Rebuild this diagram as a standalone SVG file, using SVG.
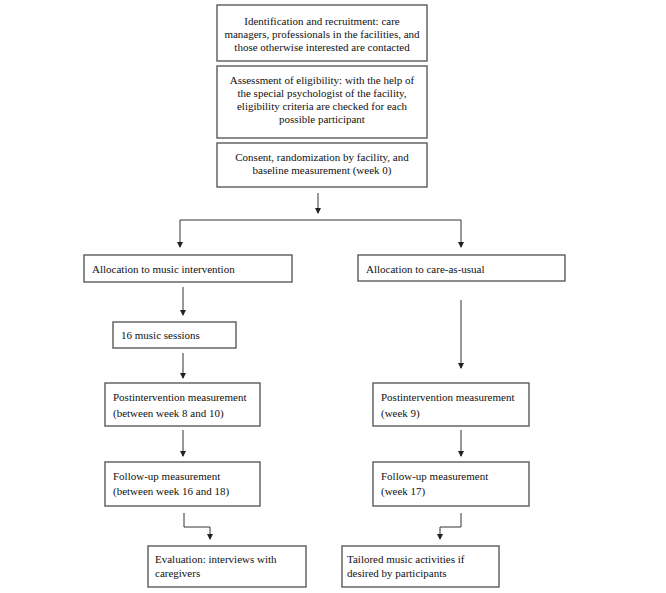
<svg xmlns="http://www.w3.org/2000/svg" width="666" height="593" viewBox="0 0 666 593">
<style>
.box{fill:#fff;stroke:#5a5a5a;stroke-width:1.4}
.t{font-family:"Liberation Serif","Times New Roman",serif;font-size:11px;fill:#111}
.c{text-anchor:middle}
.ln{fill:none;stroke:#333;stroke-width:1}
</style>
<defs>
<marker id="ah" markerWidth="6" markerHeight="6" refX="5" refY="3" orient="auto" markerUnits="userSpaceOnUse" viewBox="0 0 6 6">
<path d="M0,0 L6,3 L0,6 Z" fill="#222"/>
</marker>
</defs>
<rect width="666" height="593" fill="#fff"/>
<g id="connectors">
<path class="ln" d="M318,193 V213" marker-end="url(#ah)"/>
<path class="ln" d="M180,220 H461"/>
<path class="ln" d="M180,220 V247" marker-end="url(#ah)"/>
<path class="ln" d="M461,220 V247" marker-end="url(#ah)"/>
<path class="ln" d="M183,287 V315" marker-end="url(#ah)"/>
<path class="ln" d="M183,353 V378" marker-end="url(#ah)"/>
<path class="ln" d="M461,300 V368" marker-end="url(#ah)"/>
<path class="ln" d="M183,430 V456" marker-end="url(#ah)"/>
<path class="ln" d="M461,430 V456" marker-end="url(#ah)"/>
<path class="ln" d="M184,513 V527 H210 V539" marker-end="url(#ah)"/>
<path class="ln" d="M461,513 V527 H440 V539" marker-end="url(#ah)"/>
</g>
<g id="n1">
<rect class="box" x="217" y="5" width="210" height="56"/>
<text class="t c" x="322" y="25">Identification and recruitment: care</text>
<text class="t c" x="322" y="38">managers, professionals in the facilities, and</text>
<text class="t c" x="322" y="51">those otherwise interested are contacted</text>
</g>
<g id="n2">
<rect class="box" x="217" y="66" width="210" height="72"/>
<text class="t c" x="322" y="84">Assessment of eligibility: with the help of</text>
<text class="t c" x="322" y="97">the special psychologist of the facility,</text>
<text class="t c" x="322" y="110">eligibility criteria are checked for each</text>
<text class="t c" x="322" y="123">possible participant</text>
</g>
<g id="n3">
<rect class="box" x="217" y="143" width="210" height="44"/>
<text class="t c" x="322" y="161">Consent, randomization by facility, and</text>
<text class="t c" x="322" y="174">baseline measurement (week 0)</text>
</g>
<g id="n4">
<rect class="box" x="84" y="255" width="208" height="27"/>
<text class="t" x="92" y="273">Allocation to music intervention</text>
</g>
<g id="n5">
<rect class="box" x="358" y="255" width="207" height="26"/>
<text class="t" x="366" y="273">Allocation to care-as-usual</text>
</g>
<g id="n6">
<rect class="box" x="113" y="322" width="123" height="26"/>
<text class="t" x="121" y="339">16 music sessions</text>
</g>
<g id="n7">
<rect class="box" x="105" y="383" width="155" height="43"/>
<text class="t" x="113" y="401">Postintervention measurement</text>
<text class="t" x="113" y="417">(between week 8 and 10)</text>
</g>
<g id="n8">
<rect class="box" x="373" y="383" width="156" height="43"/>
<text class="t" x="381" y="401">Postintervention measurement</text>
<text class="t" x="381" y="417">(week 9)</text>
</g>
<g id="n9">
<rect class="box" x="105" y="462" width="155" height="44"/>
<text class="t" x="113" y="480">Follow-up measurement</text>
<text class="t" x="113" y="495">(between week 16 and 18)</text>
</g>
<g id="n10">
<rect class="box" x="373" y="462" width="156" height="44"/>
<text class="t" x="381" y="480">Follow-up measurement</text>
<text class="t" x="381" y="495">(week 17)</text>
</g>
<g id="n11">
<rect class="box" x="148" y="546" width="158" height="41"/>
<text class="t" x="155" y="563">Evaluation: interviews with</text>
<text class="t" x="155" y="577">caregivers</text>
</g>
<g id="n12">
<rect class="box" x="342" y="546" width="157" height="41"/>
<text class="t" x="347" y="563">Tailored music activities if</text>
<text class="t" x="347" y="577">desired by participants</text>
</g>
</svg>
